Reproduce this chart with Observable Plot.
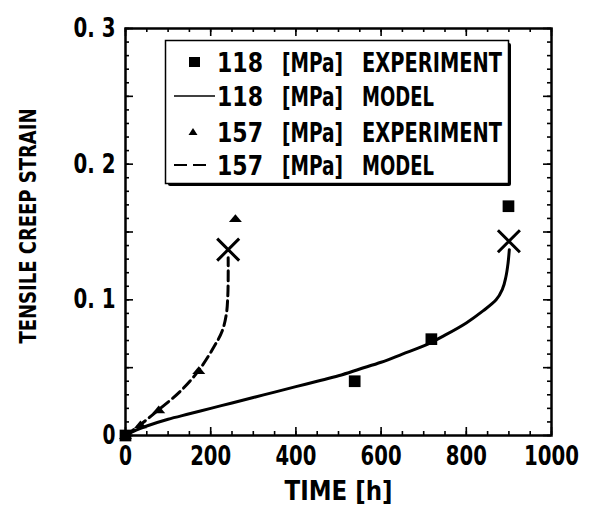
<!DOCTYPE html>
<html>
<head>
<meta charset="utf-8">
<script src="https://cdn.jsdelivr.net/npm/d3@7"></script>
<script src="https://cdn.jsdelivr.net/npm/@observablehq/plot@0.6"></script>
<style>
  html, body { margin: 0; padding: 0; background: #fff; }
  #wrap { position: relative; width: 589px; height: 507px; }
  #legend { position: absolute; left: 0; top: 0; pointer-events: none; }
</style>
</head>
<body>
<div id="wrap"></div>
<script>
// ---- data ----
const exp118Time   = [0, 538, 718, 899];
const exp118Strain = [0, 0.040, 0.071, 0.169];

const exp157Time   = [0, 35, 78, 172, 258];
const exp157Strain = [0, 0.008, 0.019, 0.048, 0.160];

const model118Time   = [0, 25, 50, 100, 150, 200, 250, 300, 350, 400, 450, 500, 550, 600, 650, 700, 750, 800, 840, 870, 885, 893, 898, 901];
const model118Strain = [0, 0.004, 0.007, 0.012, 0.016, 0.020, 0.024, 0.028, 0.032, 0.036, 0.040, 0.044, 0.049, 0.054, 0.060, 0.066, 0.074, 0.083, 0.092, 0.100, 0.108, 0.117, 0.127, 0.137];

const model157Time   = [0, 35, 78, 130, 172, 207, 227, 237, 240, 241, 241];
const model157Strain = [0, 0.008, 0.019, 0.033, 0.048, 0.065, 0.077, 0.090, 0.102, 0.114, 0.131];

const ruptureTime   = [900, 241];
const ruptureStrain = [0.1432, 0.137];

const xTickValues = [0, 200, 400, 600, 800, 1000];
const xTickLabels = ["0", "200", "400", "600", "800", "1000"];
const yTickValues = [0, 0.1, 0.2, 0.3];
const yTickLabels = ["0", "0. 1", "0. 2", "0. 3"];

const xLabel = "TIME [h]";
const yLabel = "TENSILE CREEP STRAIN";

const legendStress = ["118", "118", "157", "157"];
const legendUnit   = "[MPa]";
const legendKind   = ["EXPERIMENT", "MODEL", "EXPERIMENT", "MODEL"];

// ---- build tables ----
const zip = (xs, ys) => xs.map((x, i) => ({x, y: ys[i]}));
const e118 = zip(exp118Time, exp118Strain);
const e157 = zip(exp157Time, exp157Strain);
const m118 = zip(model118Time, model118Strain);
const m157 = zip(model157Time, model157Strain);
const rupt = zip(ruptureTime, ruptureStrain);

const W = 589, H = 507, mL = 125, mR = 38, mT = 28, mB = 72;
const innerH = H - mT - mB, innerW = W - mL - mR;
const FONT = '"DejaVu Sans Condensed", "DejaVu Sans", sans-serif';

const xMinor = d3.range(0, 1001, 50);
const xMajor = d3.range(0, 1001, 200);
const yMinor = d3.range(0, 31).map(i => i / 100);
const yMajor = d3.range(0, 7).map(i => i * 0.05);

// custom symbols
const flatTriangle = {
  draw(ctx, size) {
    const r = Math.sqrt(size / Math.PI);
    ctx.moveTo(0, -r * 0.65);
    ctx.lineTo(r, r * 0.55);
    ctx.lineTo(-r, r * 0.55);
    ctx.closePath();
  }
};
const cross = {
  draw(ctx, size) {
    const r = Math.sqrt(size / Math.PI);
    ctx.moveTo(-r, -r); ctx.lineTo(r, r);
    ctx.moveTo(r, -r); ctx.lineTo(-r, r);
  }
};

const tickStyle = {stroke: "#000", strokeWidth: 1.6};

const chart = Plot.plot({
  width: W, height: H,
  marginLeft: mL, marginRight: mR, marginTop: mT, marginBottom: mB,
  style: {fontFamily: FONT, fontWeight: "bold", fontSize: "27px", color: "#000", background: "#fff"},
  x: {domain: [0, 1000], axis: null},
  y: {domain: [0, 0.3], axis: null},
  marks: [
    Plot.ruleX(xMinor, {x: d => d, insetTop: innerH - 4, ...tickStyle}),
    Plot.ruleX(xMajor, {x: d => d, insetTop: innerH - 8, ...tickStyle}),
    Plot.ruleX(xMinor, {x: d => d, insetBottom: innerH - 4, ...tickStyle}),
    Plot.ruleX(xMajor, {x: d => d, insetBottom: innerH - 8, ...tickStyle}),
    Plot.ruleY(yMinor, {y: d => d, insetRight: innerW - 4, ...tickStyle}),
    Plot.ruleY(yMajor, {y: d => d, insetRight: innerW - 8, ...tickStyle}),
    Plot.ruleY(yMinor, {y: d => d, insetLeft: innerW - 4, ...tickStyle}),
    Plot.ruleY(yMajor, {y: d => d, insetLeft: innerW - 8, ...tickStyle}),
    Plot.frame({stroke: "#000", strokeWidth: 2.5}),
    Plot.axisX(xTickValues, {tickSize: 0, tickPadding: 10, tickFormat: (d, i) => xTickLabels[i], fontSize: 27, label: null}),
    Plot.axisY(yTickValues, {tickSize: 0, tickPadding: 10, tickFormat: (d, i) => yTickLabels[i], fontSize: 27, label: null}),
    Plot.text([xLabel], {frameAnchor: "bottom", dy: 56, lineAnchor: "middle", textAnchor: "middle", fontSize: 27, text: d => d}),
    Plot.text([yLabel], {frameAnchor: "left", dx: -97, dy: -6, rotate: -90, lineAnchor: "middle", textAnchor: "middle", fontSize: 23, text: d => d}),
    Plot.line(m118, {x: "x", y: "y", stroke: "#000", strokeWidth: 3, curve: "monotone-y"}),
    Plot.line(m157, {x: "x", y: "y", stroke: "#000", strokeWidth: 3, strokeDasharray: "10 5", curve: "catmull-rom"}),
    Plot.dot(e118, {x: "x", y: "y", symbol: "square", r: 6.6, fill: "#000", stroke: "none"}),
    Plot.dot(e157, {x: "x", y: "y", symbol: flatTriangle, r: 6.5, fill: "#000", stroke: "none"}),
    Plot.dot(rupt, {x: "x", y: "y", symbol: cross, r: 11, stroke: "#000", strokeWidth: 3, fill: "none"})
  ]
});

// condense the texts to the widths of the original narrow gothic face
const fitWidths = new Map([
  [xLabel, 108], [yLabel, 235],
  ["0", 13], ["200", 41], ["400", 41], ["600", 41], ["800", 41], ["1000", 55],
  ["0. 1", 42], ["0. 2", 42], ["0. 3", 42]
]);
d3.select(chart).selectAll("text").each(function () {
  const t = this.textContent;
  if (fitWidths.has(t)) {
    this.setAttribute("textLength", fitWidths.get(t));
    this.setAttribute("lengthAdjust", "spacingAndGlyphs");
  }
});

const wrap = document.getElementById("wrap");
wrap.appendChild(chart);

// ---- legend (overlay) ----
const lg = d3.select(wrap).append("svg").attr("id", "legend").attr("width", W).attr("height", H)
  .style("font-family", FONT).style("font-weight", "bold").style("font-size", "27px");
lg.append("rect").attr("x", 168).attr("y", 43).attr("width", 343).attr("height", 143).attr("rx", 2).attr("fill", "#000");
lg.append("rect").attr("x", 165.5).attr("y", 40.5).attr("width", 343).attr("height", 143).attr("fill", "#fff").attr("stroke", "#000").attr("stroke-width", 1.5);
const baselines = [72, 106, 142, 175];
const kindW = {EXPERIMENT: 140, MODEL: 72};
legendStress.forEach((s, i) => {
  const b = baselines[i];
  const addText = (txt, x, w) => lg.append("text").attr("x", x).attr("y", b).text(txt)
    .attr("textLength", w).attr("lengthAdjust", "spacingAndGlyphs");
  addText(s, 217, 46);
  addText(legendUnit, 282, 61);
  addText(legendKind[i], 362, kindW[legendKind[i]]);
  const cy = b - 10;
  if (i === 0) lg.append("rect").attr("x", 189).attr("y", cy - 5).attr("width", 11).attr("height", 10).attr("fill", "#000");
  if (i === 1) lg.append("line").attr("x1", 174).attr("x2", 215).attr("y1", cy).attr("y2", cy).attr("stroke", "#000").attr("stroke-width", 1.6);
  if (i === 2) lg.append("path").attr("d", `M${193},${cy - 4} L${197.5},${cy + 3} L${188.5},${cy + 3} Z`).attr("fill", "#000");
  if (i === 3) lg.append("line").attr("x1", 174).attr("x2", 210).attr("y1", cy).attr("y2", cy).attr("stroke", "#000").attr("stroke-width", 1.8).attr("stroke-dasharray", "13 6");
});
</script>
</body>
</html>
